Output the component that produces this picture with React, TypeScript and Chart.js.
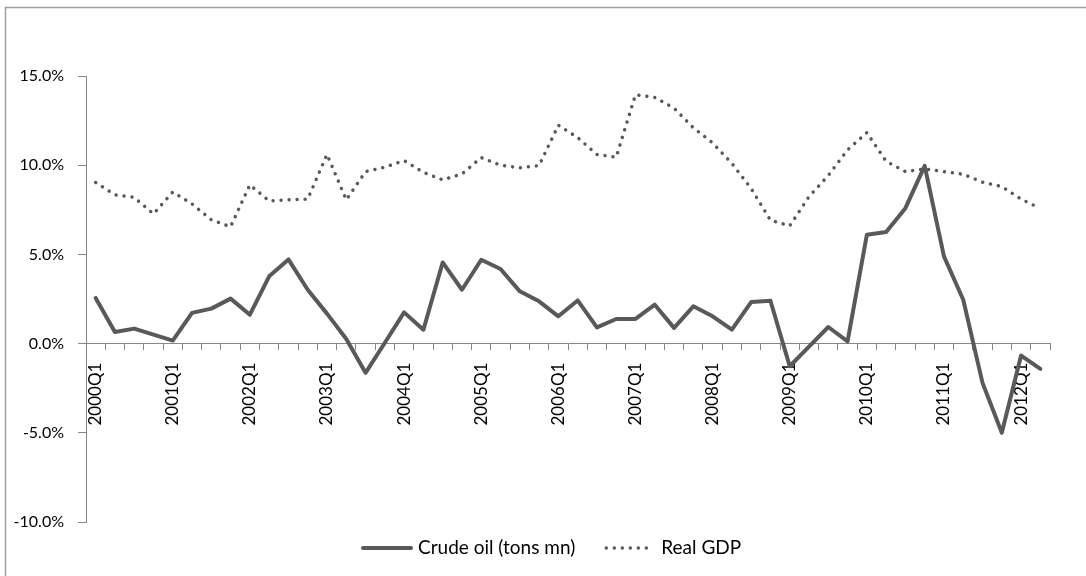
import React, { useEffect, useRef } from 'react';
import { Chart, registerables } from 'chart.js';

Chart.register(...registerables);

const years = [2000, 2001, 2002, 2003, 2004, 2005, 2006, 2007, 2008, 2009, 2010, 2011, 2012];
const quarterNames = ['Q1', 'Q2', 'Q3', 'Q4'];
const categories: string[] = [];
years.forEach((y) => quarterNames.forEach((q) => categories.push(`${y}${q}`)));
categories.length = 50; // 2000Q1 .. 2012Q2

const crudeOil = [
  2.56, 0.65, 0.84, 0.5, 0.17, 1.72, 1.96, 2.52, 1.62, 3.77,
  4.72, 3.02, 1.68, 0.26, -1.64, 0.05, 1.75, 0.78, 4.55, 3.02,
  4.7, 4.18, 2.93, 2.37, 1.53, 2.42, 0.91, 1.38, 1.38, 2.18,
  0.88, 2.09, 1.53, 0.78, 2.33, 2.4, -1.27, -0.17, 0.93, 0.13,
  6.1, 6.25, 7.59, 9.96, 4.89, 2.46, -2.2, -5.0, -0.67, -1.42,
];

const realGDP = [
  9.03, 8.34, 8.2, 7.27, 8.5, 7.83, 6.94, 6.55, 8.9, 8.0,
  8.06, 8.1, 10.6, 8.06, 9.64, 9.89, 10.26, 9.6, 9.18, 9.51,
  10.43, 10.0, 9.85, 9.98, 12.24, 11.55, 10.6, 10.45, 13.95, 13.8,
  13.2, 12.1, 11.25, 10.1, 8.69, 6.92, 6.6, 8.24, 9.42, 10.86,
  11.83, 10.22, 9.64, 9.79, 9.64, 9.49, 9.05, 8.8, 8.1, 7.57,
];

const seriesNames = ['Crude oil (tons mn)', 'Real GDP'];
const yMin = -10;
const yMax = 15;
const yStep = 5;

const FONT = 'Lato, "Noto Sans", sans-serif';
const SERIES_COLOR = '#595959';
const AXIS_COLOR = '#868686';

const framePlugin = {
  id: 'frameAndLegend',
  afterDraw(chart: any) {
    const ctx = chart.ctx as CanvasRenderingContext2D;
    ctx.save();
    // outer frame (only top & left visible in reference)
    ctx.strokeStyle = '#a0a0a0';
    ctx.lineWidth = 1.5;
    ctx.setLineDash([]);
    ctx.beginPath();
    ctx.moveTo(5.5, 576);
    ctx.lineTo(5.5, 7.5);
    ctx.lineTo(1086, 7.5);
    ctx.stroke();

    // legend
    const y = 548;
    let x = 363;
    ctx.font = `19px ${FONT}`;
    ctx.textBaseline = 'middle';
    ctx.textAlign = 'left';
    chart.data.datasets.forEach((ds: any) => {
      ctx.save();
      ctx.strokeStyle = ds.borderColor;
      ctx.lineWidth = ds.borderWidth;
      ctx.lineCap = ds.borderCapStyle || 'butt';
      ctx.setLineDash(ds.borderDash || []);
      ctx.beginPath();
      ctx.moveTo(x, y);
      ctx.lineTo(x + 48, y);
      ctx.stroke();
      ctx.restore();
      ctx.fillStyle = '#000';
      ctx.fillText(ds.label, x + 55, y);
      x += 55 + ctx.measureText(ds.label).width + 31;
    });
    ctx.restore();
  },
};

export default function App() {
  const canvasRef = useRef<HTMLCanvasElement | null>(null);

  useEffect(() => {
    document.body.style.margin = '0';
    const canvas = canvasRef.current;
    if (!canvas) return;
    const chart = new Chart(canvas, {
      type: 'line',
      data: {
        labels: categories,
        datasets: [
          {
            label: seriesNames[0],
            data: crudeOil,
            borderColor: SERIES_COLOR,
            backgroundColor: SERIES_COLOR,
            borderWidth: 4,
            borderCapStyle: 'round',
            borderJoinStyle: 'round',
            pointRadius: 0,
            tension: 0,
            fill: false,
            xAxisID: 'x',
          },
          {
            label: seriesNames[1],
            data: realGDP,
            borderColor: SERIES_COLOR,
            backgroundColor: SERIES_COLOR,
            borderWidth: 3.5,
            borderDash: [0.01, 8],
            borderCapStyle: 'round',
            borderJoinStyle: 'round',
            pointRadius: 0,
            tension: 0,
            fill: false,
            xAxisID: 'x',
          },
        ],
      },
      options: {
        responsive: false,
        animation: false,
        layout: { padding: { left: 0, top: 76, right: 36, bottom: 54 } },
        plugins: {
          legend: { display: false },
          tooltip: { enabled: false },
        },
        scales: {
          x: {
            type: 'category',
            position: { y: 0 } as any,
            offset: true,
            grid: {
              offset: true,
              drawOnChartArea: false,
              drawTicks: true,
              tickLength: 6,
              color: AXIS_COLOR,
            },
            border: { display: true, color: AXIS_COLOR, width: 1 },
            ticks: { display: false, autoSkip: false },
          },
          xLabels: {
            type: 'category',
            position: { y: 0 } as any,
            offset: true,
            grid: {
              offset: true,
              drawOnChartArea: false,
              drawTicks: true,
              tickLength: 16,
              color: 'rgba(0,0,0,0)',
            },
            border: { display: false },
            ticks: {
              autoSkip: false,
              maxRotation: 90,
              minRotation: 90,
              color: '#000',
              font: { family: FONT, size: 17 },
              callback: (_v: any, i: number) => (categories[i].endsWith('Q1') ? categories[i] : ''),
            },
          },
          y: {
            min: yMin,
            max: yMax,
            afterFit: (s: any) => {
              s.width = 86;
            },
            grid: {
              drawOnChartArea: false,
              drawTicks: true,
              tickLength: 8,
              color: AXIS_COLOR,
            },
            border: { display: true, color: AXIS_COLOR, width: 1 },
            ticks: {
              stepSize: yStep,
              padding: 14,
              color: '#000',
              font: { family: FONT, size: 16 },
              callback: (v: any) => `${Number(v).toFixed(1)}%`,
            },
          },
        },
      },
      plugins: [framePlugin],
    });
    return () => chart.destroy();
  }, []);

  return (
    <div style={{ position: 'fixed', left: 0, top: 0, width: 1086, height: 576, background: '#fff' }}>
      <canvas ref={canvasRef} width={1086} height={576} style={{ display: 'block' }} />
    </div>
  );
}
